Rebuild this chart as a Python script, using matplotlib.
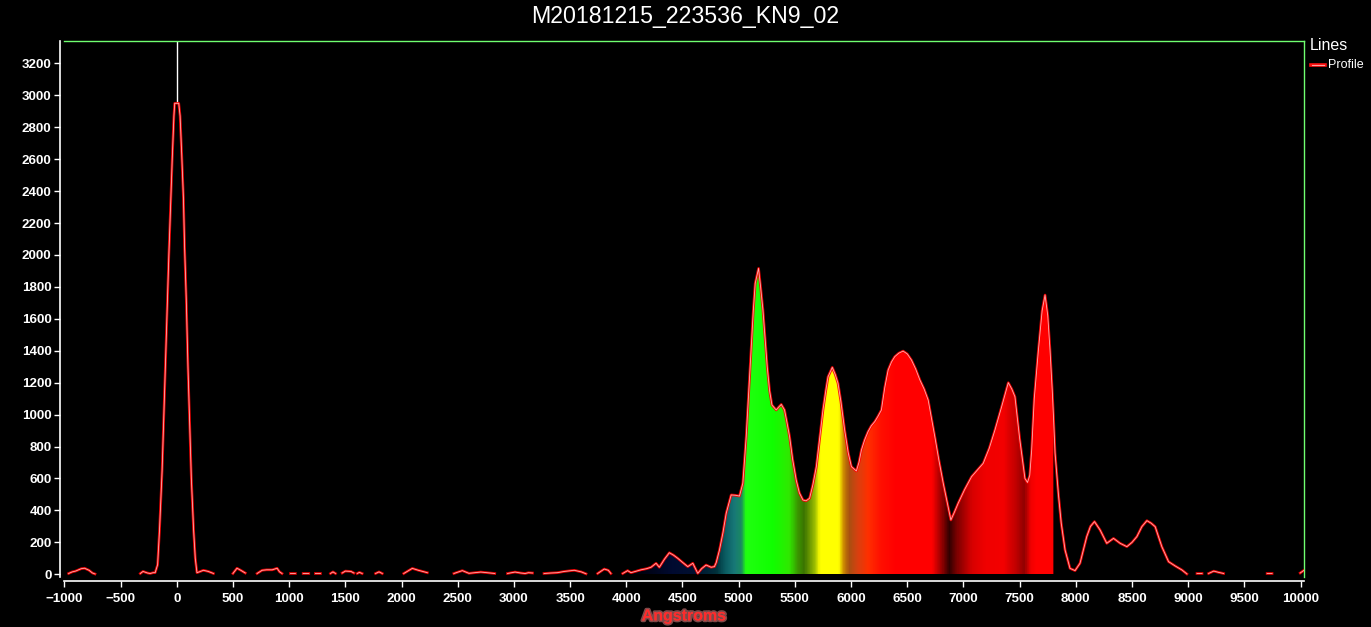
import numpy as np
import matplotlib
matplotlib.use("Agg")
import matplotlib.pyplot as plt
import matplotlib.patheffects as pe
from matplotlib.colors import LinearSegmentedColormap, Normalize
from matplotlib.patches import Polygon
from matplotlib.lines import Line2D

nan = np.nan

# zero order + left baseline (Angstroms, counts); nan = gap in the trace
zero_wl = [-962, -930, -900, -850, -820, -780, -750, -727, -700,
           -340, -324, -300, -260, -236, -210, -192, -170, -153, -130, -110,
           -90, -70, -55, -40, -25, -18, 0, 18, 30, 45, 60, 70, 85, 100,
           115, 130, 150, 165, 180, 200, 237, 280, 327, 400]
zero_val = [5, 15, 20, 35, 38, 25, 8, 2, nan,
            nan, 5, 18, 8, 5, 10, 10, 60, 280, 650, 1100,
            1550, 2000, 2300, 2600, 2870, 2950, 2950, 2950, 2870, 2620, 2350, 2050, 1720, 1300,
            950, 600, 280, 100, 10, 15, 25, 18, 5, nan]

# noisy baseline before the spectrum
base_wl = [500, 536, 570, 610, 650,
           715, 760, 800, 850, 893, 915, 937, 980,
           1012, 1056, 1090, 1125, 1175, 1200, 1234, 1279, 1320,
           1368, 1390, 1413, 1440, 1472, 1500, 1550, 1576, 1590, 1606, 1625, 1650, 1700,
           1769, 1800, 1829, 1900, 2020, 2096, 2150, 2230, 2300,
           2466, 2541, 2600, 2650, 2705, 2760, 2830, 2880,
           2943, 3010, 3060, 3100, 3130, 3166, 3220,
           3268, 3330, 3386, 3450, 3537, 3600, 3642, 3700,
           3745, 3804, 3840, 3863, 3920]
base_val = [5, 38, 25, 8, nan,
            5, 25, 28, 28, 38, 15, 5, nan,
            5, 5, nan, 5, 5, nan, 5, 5, nan,
            5, 15, 5, nan, 8, 20, 18, 8, nan, 5, 12, 5, nan,
            5, 15, 5, nan, 5, 37, 25, 10, nan,
            5, 23, 6, 10, 14, 10, 5, nan,
            5, 14, 8, 5, 10, 8, nan,
            5, 8, 10, 18, 25, 15, 3, nan,
            5, 33, 25, 5, nan]

# spectrum (1st order)
spec_wl = [3968, 4012, 4042, 4090, 4131, 4180, 4220, 4265, 4294, 4340, 4383, 4420,
           4458, 4500, 4547, 4592, 4636, 4670, 4710, 4755, 4784, 4800, 4829, 4860,
           4889, 4933, 4970, 5007, 5037, 5067, 5090, 5111, 5130, 5147, 5177, 5195,
           5216, 5235, 5254, 5275, 5296, 5334, 5360, 5379, 5408, 5430, 5453, 5480,
           5512, 5540, 5572, 5600, 5631, 5660, 5691, 5720, 5750, 5775, 5795, 5833,
           5860, 5884, 5910, 5943, 5975, 6003, 6047, 6070, 6092, 6120, 6151, 6180,
           6211, 6240, 6270, 6300, 6330, 6360, 6389, 6425, 6463, 6500, 6537, 6575,
           6612, 6650, 6686, 6715, 6745, 6780, 6820, 6855, 6888, 6920, 6953, 7010,
           7072, 7120, 7176, 7230, 7280, 7340, 7399, 7430, 7458, 7500, 7547, 7570,
           7590, 7607, 7630, 7667, 7700, 7726, 7750, 7770, 7790, 7800, 7815, 7845,
           7870, 7904, 7948, 7993, 8037, 8097, 8130, 8166, 8216, 8275, 8335, 8394,
           8454, 8500, 8543, 8587, 8632, 8670, 8706, 8765, 8825, 8884, 8944, 8988, 9040]
spec_val = [5, 23, 10, 20, 28, 35, 44, 69, 44, 95, 135, 120,
            100, 75, 48, 69, 6, 35, 58, 44, 48, 73, 152, 260,
            382, 497, 495, 490, 570, 862, 1150, 1405, 1650, 1822, 1916, 1800,
            1655, 1480, 1300, 1150, 1060, 1029, 1050, 1064, 1029, 950, 862, 720,
            590, 510, 465, 460, 476, 560, 674, 850, 1029, 1150, 1237, 1296,
            1250, 1196, 1080, 903, 760, 674, 647, 700, 778, 840, 893, 930,
            956, 990, 1029, 1170, 1279, 1330, 1363, 1385, 1398, 1380, 1342, 1285,
            1217, 1160, 1091, 980, 862, 720, 570, 450, 340, 390, 445, 530,
            611, 650, 695, 790, 903, 1050, 1200, 1160, 1112, 850, 600, 575,
            620, 778, 1100, 1405, 1650, 1749, 1620, 1405, 1150, 1000, 760, 500,
            320, 152, 37, 23, 69, 236, 300, 330, 277, 194, 225, 194,
            173, 200, 236, 298, 336, 320, 298, 173, 79, 52, 27, 2, nan]

# tail
tail_wl = [9078, 9123, 9150, 9181, 9227, 9270, 9315, 9400, 9702, 9746, 9850, 9996, 10030]
tail_val = [5, 5, nan, 5, 20, 12, 5, nan, 5, 5, nan, 8, 25]

fill_range = (4000, 7800)
# colour of the spectrum band vs wavelength
spec_colors = [(4000, '#000004'), (4200, '#000418'), (4400, '#000a30'), (4600, '#001030'),
               (4800, '#00303a'), (4870, '#0a5a60'), (4960, '#187878'), (5020, '#1a8a60'),
               (5060, '#20ff10'), (5300, '#10ff00'), (5450, '#30e800'), (5520, '#3a9800'),
               (5580, '#3a7400'), (5680, '#a0c000'), (5720, '#ffff00'), (5890, '#ffff00'),
               (5930, '#d09000'), (5980, '#a85010'), (6060, '#d84010'), (6150, '#ff3000'),
               (6260, '#ff1000'), (6400, '#ff0000'), (6720, '#ff0000'), (6800, '#a00000'),
               (6875, '#300000'), (6950, '#800000'), (7080, '#d80000'), (7200, '#f00000'),
               (7360, '#f40000'), (7470, '#c00000'), (7545, '#900000'), (7600, '#f00000'),
               (7650, '#ff0000'), (7800, '#ff0000')]

wl = np.array(zero_wl + base_wl + spec_wl + tail_wl, dtype=float)
val = np.array(zero_val + base_val + spec_val + tail_val, dtype=float)

plt.rcParams['font.family'] = ['Liberation Sans', 'DejaVu Sans']

fig = plt.figure(figsize=(13.71, 6.27), dpi=100, facecolor='black')
ax = fig.add_axes([64 / 1371, 50 / 627, 1240 / 1371, 536 / 627], facecolor='black')

xlim = (-1003, 10030)
ylim = (-17, 3340)

# spectrum-coloured fill under the curve
lo, hi = fill_range
cmap = LinearSegmentedColormap.from_list(
    'spec', [((w - lo) / (hi - lo), c) for w, c in spec_colors])
grad = np.linspace(lo, hi, 800).reshape(1, -1)
im = ax.imshow(grad, extent=[lo, hi, 0, ylim[1]], aspect='auto', origin='lower',
               cmap=cmap, norm=Normalize(lo, hi), interpolation='bilinear', zorder=2)
m = (wl >= lo) & (wl <= hi) & ~np.isnan(val)
verts = [(lo, 0)] + list(zip(wl[m], val[m])) + [(hi, 0)]
clip = Polygon(verts, closed=True, transform=ax.transData, facecolor='none', edgecolor='none')
ax.add_patch(clip)
im.set_clip_path(clip)

# zero-order marker line
peak0 = np.nanmax(val[np.abs(wl) < 30])
ax.vlines(0, peak0, ylim[1], color='white', lw=1, zorder=1)

# profile trace with glow
ax.plot(wl, val, color='#ff0000', lw=1.9, alpha=0.9, zorder=3)
ax.plot(wl, val, color='#ffb0b0', lw=0.6, zorder=4)

ax.set_xlim(*xlim)
ax.set_ylim(*ylim)
ax.set_xticks(np.arange(-1000, 10001, 500))
ax.set_yticks(np.arange(0, 3201, 200))

for s in ['top', 'right']:
    ax.spines[s].set_color('#70ff70')
    ax.spines[s].set_linewidth(1)
for s in ['left', 'bottom']:
    ax.spines[s].set_color('white')
    ax.spines[s].set_linewidth(1.2)
    ax.spines[s].set_position(('outward', 3))
ax.tick_params(colors='white', direction='out', length=4.5, width=1,
               labelsize=9.6, top=False, right=False)
ax.tick_params(axis='x', pad=4)
ax.tick_params(axis='y', pad=1.5)
for lab in ax.get_xticklabels() + ax.get_yticklabels():
    lab.set_fontweight('bold')

fig.text(0.5, 1 - 16 / 627, 'M20181215_223536_KN9_02', color='white',
         fontsize=16.7, ha='center', va='center')
fig.text(684 / 1371, 1 - 616 / 627, 'Angstroms', color='#ff2a2a', fontsize=11.5,
         fontweight='bold', ha='center', va='center',
         path_effects=[pe.withStroke(linewidth=2.5, foreground='#ff9090', alpha=0.5)])

# legend
fig.text(1310 / 1371, 1 - 45 / 627, 'Lines', color='white', fontsize=11.5,
         ha='left', va='center')
fig.add_artist(Line2D([1311 / 1371, 1325 / 1371], [1 - 65 / 627] * 2, color='#ff1010',
                      lw=2.6, transform=fig.transFigure))
fig.add_artist(Line2D([1312 / 1371, 1324 / 1371], [1 - 65 / 627] * 2, color='#ffa0a0',
                      lw=0.8, transform=fig.transFigure))
fig.text(1328 / 1371, 1 - 65 / 627, 'Profile', color='white', fontsize=9,
         ha='left', va='center')

fig.savefig('out.png', dpi=100, facecolor='black')
